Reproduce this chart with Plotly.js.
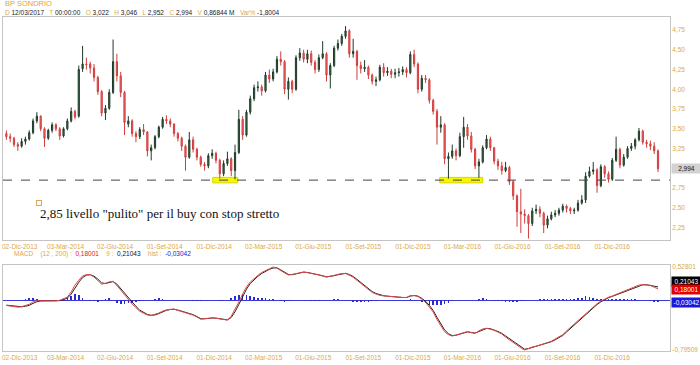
<!DOCTYPE html>
<html><head><meta charset="utf-8">
<script src="https://cdn.plot.ly/plotly-3.0.1.min.js"></script>
<style>html,body{margin:0;padding:0;background:#fff}#chart{width:700px;height:365px}</style>
</head><body><div id="chart"></div>
<script>
// Weekly sampling (week-ending Fridays) of BP SONDRIO
const dates = ("2013-11-29 2013-12-06 2013-12-13 2013-12-20 2013-12-27 " +
"2014-01-03 2014-01-10 2014-01-17 2014-01-24 2014-01-31 2014-02-07 2014-02-14 2014-02-21 2014-02-28 " +
"2014-03-07 2014-03-14 2014-03-21 2014-03-28 2014-04-04 2014-04-11 2014-04-18 2014-04-25 " +
"2014-05-02 2014-05-09 2014-05-16 2014-05-23 2014-05-30 2014-06-06 2014-06-13 2014-06-20 2014-06-27 " +
"2014-07-04 2014-07-11 2014-07-18 2014-07-25 2014-08-01 2014-08-08 2014-08-15 2014-08-22 2014-08-29 " +
"2014-09-05 2014-09-12 2014-09-19 2014-09-26 2014-10-03 2014-10-10 2014-10-17 2014-10-24 2014-10-31 " +
"2014-11-07 2014-11-14 2014-11-21 2014-11-28 2014-12-05 2014-12-12 2014-12-19 2014-12-26 " +
"2015-01-02 2015-01-09 2015-01-16 2015-01-23 2015-01-30 2015-02-06 2015-02-13 2015-02-20 2015-02-27 " +
"2015-03-06 2015-03-13 2015-03-20 2015-03-27 2015-04-03 2015-04-10 2015-04-17 2015-04-24 " +
"2015-05-01 2015-05-08 2015-05-15 2015-05-22 2015-05-29 2015-06-05 2015-06-12 2015-06-19 2015-06-26 " +
"2015-07-03 2015-07-10 2015-07-17 2015-07-24 2015-07-31 2015-08-07 2015-08-14 2015-08-21 2015-08-28 " +
"2015-09-04 2015-09-11 2015-09-18 2015-09-25 2015-10-02 2015-10-09 2015-10-16 2015-10-23 2015-10-30 " +
"2015-11-06 2015-11-13 2015-11-20 2015-11-27 2015-12-04 2015-12-11 2015-12-18 2015-12-25 " +
"2016-01-01 2016-01-08 2016-01-15 2016-01-22 2016-01-29 2016-02-05 2016-02-12 2016-02-19 2016-02-26 " +
"2016-03-04 2016-03-11 2016-03-18 2016-03-25 2016-04-01 2016-04-08 2016-04-15 2016-04-22 2016-04-29 " +
"2016-05-06 2016-05-13 2016-05-20 2016-05-27 2016-06-03 2016-06-10 2016-06-17 2016-06-24 " +
"2016-07-01 2016-07-08 2016-07-15 2016-07-22 2016-07-29 2016-08-05 2016-08-12 2016-08-19 2016-08-26 " +
"2016-09-02 2016-09-09 2016-09-16 2016-09-23 2016-09-30 2016-10-07 2016-10-14 2016-10-21 2016-10-28 " +
"2016-11-04 2016-11-11 2016-11-18 2016-11-25 2016-12-02 2016-12-09 2016-12-16 2016-12-23 2016-12-30 " +
"2017-01-06 2017-01-13 2017-01-20 2017-01-27 2017-02-03 2017-02-10 2017-02-17 2017-02-24 2017-03-03 2017-03-10").split(" ");

const open = [3.44,3.40,3.38,3.30,3.28,3.34,3.37,3.45,3.60,3.66,
3.50,3.38,3.48,3.55,3.50,3.41,3.50,3.60,3.72,3.66,
4.26,4.32,4.32,4.27,4.15,3.97,3.70,3.76,3.96,4.35,
4.17,3.96,3.56,3.60,3.44,3.40,3.49,3.46,3.22,3.26,
3.40,3.52,3.62,3.60,3.56,3.44,3.38,3.28,3.14,3.36,
3.24,3.14,3.05,3.03,3.16,3.19,3.10,2.93,3.06,3.12,
2.97,3.20,3.62,3.42,3.71,3.88,4.02,4.03,3.98,4.18,
4.13,4.22,4.38,4.35,4.00,4.10,4.00,4.40,4.46,4.38,
4.45,4.34,4.25,4.40,4.45,4.18,4.30,4.52,4.58,4.67,
4.74,4.45,4.48,4.30,4.26,4.28,4.18,4.10,4.12,4.28,
4.21,4.23,4.19,4.21,4.22,4.25,4.21,4.44,4.32,4.00,
4.14,4.12,3.86,3.72,3.52,3.55,3.12,3.15,3.22,3.16,
3.40,3.52,3.41,3.24,3.03,3.08,3.26,3.37,3.26,3.09,
3.03,2.97,3.01,2.83,2.65,2.45,2.42,2.40,2.30,2.46,
2.48,2.43,2.28,2.36,2.41,2.43,2.47,2.52,2.49,2.46,
2.47,2.56,2.60,2.90,2.96,2.98,2.78,3.02,2.93,2.86,
3.10,3.24,3.04,3.14,3.25,3.28,3.36,3.47,3.33,3.31,
3.28,3.22];
const high = [3.48,3.44,3.40,3.33,3.38,3.40,3.48,3.63,3.71,3.67,
3.52,3.50,3.58,3.57,3.52,3.52,3.63,3.77,3.74,4.30,
4.55,4.40,4.35,4.32,4.17,3.99,3.80,4.00,4.63,4.45,
4.22,3.98,3.66,3.62,3.47,3.52,3.56,3.47,3.30,3.42,
3.54,3.65,3.67,3.63,3.57,3.46,3.40,3.30,3.46,3.40,
3.26,3.16,3.08,3.19,3.24,3.21,3.12,3.10,3.21,3.14,
3.30,3.74,3.66,3.74,3.92,4.06,4.10,4.06,4.22,4.25,
4.26,4.42,4.48,4.37,4.15,4.12,4.43,4.52,4.50,4.50,
4.49,4.37,4.44,4.61,4.47,4.33,4.55,4.63,4.70,4.80,
4.76,4.64,4.50,4.35,4.37,4.30,4.20,4.16,4.31,4.33,
4.28,4.26,4.26,4.27,4.29,4.28,4.48,4.50,4.34,4.18,
4.18,4.14,3.88,3.75,3.66,3.57,3.20,3.30,3.25,3.45,
3.65,3.56,3.46,3.26,3.12,3.29,3.42,3.40,3.27,3.12,
3.08,3.08,3.03,2.85,2.67,2.74,2.48,2.42,2.50,2.54,
2.52,2.45,2.40,2.45,2.47,2.50,2.55,2.54,2.51,2.50,
2.60,2.66,2.95,3.02,3.08,3.00,3.05,3.04,2.96,3.13,
3.40,3.26,3.18,3.28,3.32,3.38,3.51,3.49,3.36,3.35,
3.33,3.24];
const low = [3.36,3.33,3.27,3.22,3.26,3.30,3.35,3.43,3.57,3.47,
3.27,3.36,3.45,3.47,3.36,3.39,3.48,3.58,3.62,3.64,
4.22,4.25,4.20,4.10,3.93,3.66,3.61,3.74,3.94,4.10,
3.90,3.42,3.52,3.40,3.33,3.37,3.42,3.15,3.10,3.24,
3.38,3.50,3.56,3.52,3.40,3.34,3.22,2.97,3.12,3.20,
3.10,3.02,2.97,3.00,3.12,3.06,2.87,2.90,3.03,2.90,
2.86,3.18,3.36,3.40,3.68,3.85,3.97,3.92,3.96,4.08,
4.10,4.20,4.30,3.94,3.87,3.95,3.98,4.36,4.34,4.33,
4.30,4.20,4.22,4.38,4.10,4.01,4.28,4.49,4.55,4.64,
4.40,4.40,4.12,4.20,4.22,4.13,4.06,4.04,4.10,4.16,
4.17,4.14,4.14,4.16,4.18,4.15,4.19,4.28,3.95,3.97,
4.08,3.82,3.68,3.30,3.45,3.05,2.87,3.12,3.10,3.14,
3.26,3.36,3.20,2.99,2.88,3.06,3.24,3.22,3.05,2.98,
2.92,2.95,2.79,2.60,2.26,2.18,2.30,2.11,2.27,2.42,
2.38,2.18,2.24,2.34,2.38,2.40,2.44,2.44,2.42,2.42,
2.45,2.54,2.56,2.88,2.92,2.69,2.76,2.88,2.82,2.84,
3.08,3.00,3.02,3.12,3.22,3.24,3.34,3.30,3.26,3.23,
3.18,2.952];
const close = [3.40,3.38,3.30,3.28,3.34,3.37,3.45,3.60,3.66,3.50,
3.38,3.48,3.55,3.50,3.41,3.50,3.60,3.72,3.65,4.25,
4.32,4.31,4.27,4.15,3.97,3.70,3.76,3.96,4.35,4.17,
3.96,3.58,3.60,3.44,3.40,3.49,3.46,3.22,3.26,3.40,
3.52,3.62,3.60,3.56,3.44,3.38,3.28,3.14,3.36,3.24,
3.14,3.05,3.03,3.16,3.19,3.10,2.93,3.06,3.12,2.97,
3.20,3.62,3.42,3.71,3.88,4.02,4.03,3.98,4.18,4.13,
4.22,4.38,4.35,4.00,4.10,4.00,4.40,4.46,4.38,4.45,
4.34,4.25,4.40,4.45,4.18,4.30,4.52,4.58,4.67,4.74,
4.45,4.48,4.30,4.26,4.28,4.18,4.10,4.12,4.28,4.21,
4.23,4.19,4.21,4.22,4.25,4.21,4.44,4.32,4.00,4.14,
4.12,3.86,3.72,3.52,3.55,3.12,3.15,3.22,3.16,3.40,
3.52,3.41,3.24,3.03,3.08,3.26,3.37,3.26,3.09,3.03,
2.97,3.01,2.83,2.65,2.45,2.42,2.40,2.30,2.46,2.48,
2.43,2.28,2.36,2.41,2.43,2.47,2.52,2.49,2.46,2.47,
2.56,2.60,2.90,2.96,2.98,2.78,3.02,2.93,2.86,3.10,
3.24,3.04,3.14,3.25,3.28,3.36,3.47,3.33,3.31,3.28,
3.22,2.994];

// MACD (12, 200), signal 9, histogram
const macd = [-0.085,-0.093,-0.102,-0.112,-0.105,-0.089,-0.066,-0.026,-0.008,-0.010,
-0.012,-0.016,-0.019,-0.012,-0.003,0.018,0.049,0.130,0.240,0.318,
0.386,0.407,0.405,0.368,0.317,0.255,0.268,0.291,0.300,0.237,
0.162,0.086,0.010,-0.063,-0.120,-0.178,-0.209,-0.237,-0.244,-0.231,
-0.206,-0.176,-0.155,-0.148,-0.143,-0.164,-0.180,-0.198,-0.216,-0.239,
-0.270,-0.304,-0.295,-0.285,-0.284,-0.289,-0.296,-0.308,-0.318,-0.256,
-0.150,-0.030,0.100,0.210,0.290,0.350,0.395,0.440,0.475,0.500,
0.528,0.510,0.470,0.433,0.400,0.410,0.425,0.443,0.448,0.438,
0.428,0.416,0.402,0.383,0.367,0.380,0.394,0.410,0.425,0.426,
0.400,0.366,0.316,0.265,0.215,0.164,0.122,0.098,0.075,0.068,
0.061,0.054,0.047,0.042,0.042,0.042,0.074,0.074,0.059,0.015,
-0.035,-0.110,-0.190,-0.310,-0.410,-0.505,-0.550,-0.573,-0.556,-0.540,
-0.520,-0.500,-0.520,-0.528,-0.490,-0.460,-0.448,-0.458,-0.480,-0.510,
-0.540,-0.590,-0.635,-0.680,-0.715,-0.760,-0.795,-0.765,-0.748,-0.735,
-0.720,-0.700,-0.678,-0.655,-0.623,-0.590,-0.550,-0.490,-0.435,-0.380,
-0.330,-0.267,-0.210,-0.152,-0.100,-0.057,-0.015,0.020,0.046,0.066,
0.090,0.114,0.140,0.166,0.194,0.217,0.240,0.247,0.245,0.235,
0.205,0.18001];
const signal = [-0.080,-0.086,-0.094,-0.103,-0.106,-0.098,-0.082,-0.052,-0.025,-0.014,
-0.012,-0.014,-0.017,-0.015,-0.008,0.006,0.032,0.095,0.195,0.285,
0.360,0.398,0.405,0.382,0.335,0.275,0.265,0.283,0.296,0.255,
0.185,0.110,0.035,-0.040,-0.100,-0.160,-0.198,-0.228,-0.242,-0.236,
-0.215,-0.186,-0.162,-0.150,-0.145,-0.158,-0.174,-0.192,-0.210,-0.232,
-0.262,-0.296,-0.298,-0.288,-0.285,-0.287,-0.294,-0.304,-0.315,-0.276,
-0.185,-0.070,0.060,0.175,0.265,0.330,0.380,0.425,0.462,0.490,
0.512,0.515,0.482,0.445,0.410,0.405,0.420,0.437,0.446,0.441,
0.431,0.420,0.407,0.389,0.372,0.376,0.389,0.405,0.420,0.426,
0.408,0.377,0.331,0.280,0.230,0.180,0.136,0.106,0.082,0.070,
0.063,0.056,0.049,0.044,0.042,0.042,0.064,0.073,0.064,0.028,
-0.018,-0.085,-0.165,-0.275,-0.380,-0.475,-0.535,-0.565,-0.560,-0.545,
-0.527,-0.507,-0.515,-0.525,-0.500,-0.470,-0.452,-0.455,-0.473,-0.500,
-0.530,-0.573,-0.620,-0.665,-0.703,-0.745,-0.782,-0.772,-0.755,-0.740,
-0.725,-0.706,-0.685,-0.663,-0.633,-0.600,-0.563,-0.508,-0.452,-0.398,
-0.345,-0.286,-0.228,-0.170,-0.116,-0.070,-0.027,0.010,0.038,0.060,
0.083,0.107,0.132,0.158,0.186,0.210,0.233,0.244,0.245,0.238,
0.222,0.21043];
const hist = [0.005,0.005,0.004,0.005,0.010,0.020,0.035,0.030,0.015,0.010,
0.005,-0.005,0.005,0.010,0.005,0.015,0.030,0.070,0.100,0.080,
0.040,0.010,-0.010,-0.020,-0.030,-0.020,0.020,0.035,0.010,-0.040,
-0.060,-0.060,-0.050,-0.040,-0.030,-0.020,-0.010,-0.005,0.005,0.020,
0.030,0.020,0.010,0.005,0.005,-0.005,-0.010,-0.010,-0.005,-0.010,
-0.015,-0.010,0.005,0.005,0.000,-0.005,-0.010,-0.010,-0.005,0.030,
0.060,0.080,0.090,0.085,0.070,0.050,0.040,0.035,0.030,0.025,
0.020,0.010,-0.020,-0.025,-0.015,0.005,0.010,0.010,0.005,-0.005,
-0.010,-0.010,-0.015,-0.010,0.005,0.010,0.015,0.015,0.010,-0.010,
-0.020,-0.030,-0.035,-0.035,-0.030,-0.025,-0.020,-0.010,-0.005,0.000,
0.005,0.005,0.000,0.000,0.005,0.010,0.020,0.010,0.000,-0.030,
-0.050,-0.070,-0.080,-0.080,-0.070,-0.060,-0.040,-0.020,-0.005,0.005,
0.010,0.000,-0.005,0.005,0.025,0.030,0.020,0.000,-0.010,-0.015,
-0.020,-0.025,-0.030,-0.030,-0.025,-0.020,-0.010,0.005,0.010,0.010,
0.015,0.015,0.020,0.020,0.020,0.020,0.020,0.025,0.025,0.025,
0.030,0.040,0.060,0.050,0.035,0.025,0.020,0.020,0.020,0.015,
0.015,0.020,0.020,0.020,0.020,0.015,0.010,0.005,-0.005,-0.015,
-0.025,-0.03042];

const dateTicks = ['2013-12-02','2014-03-03','2014-06-02','2014-09-01','2014-12-01','2015-03-02','2015-06-01','2015-09-01','2015-12-01','2016-03-01','2016-06-01','2016-09-01','2016-12-01'];
const dateLabels = ['02-Dic-2013','03-Mar-2014','02-Giu-2014','01-Set-2014','01-Dic-2014','02-Mar-2015','01-Giu-2015','01-Set-2015','01-Dic-2015','01-Mar-2016','01-Giu-2016','01-Set-2016','01-Dic-2016'];
const priceTicks = [2.25,2.50,2.75,3.25,3.50,3.75,4.00,4.25,4.50,4.75];
const macdTicks = [0.52801,-0.79509];
const supportLevel = 2.85;
const supportZones = [['2014-12-13','2015-01-28'],['2016-02-03','2016-04-22']];
const title = 'BP SONDRIO';
const info = {D:'12/03/2017', T:'00:00:00', O:'3,022', H:'3,046', L:'2,952', C:'2,994', V:'0,86844 M', 'Var%':'-1,8004'};
const note = '2,85 livello "pulito" per il buy con stop stretto';

const gold = '#dca84a';
const fmt = (v, d) => v.toFixed(d).replace('.', ',');
const n = close.length - 1;
const fs = 6.5;

const traces = [
  {type:'candlestick', x:dates, open:open, high:high, low:low, close:close, xaxis:'x', yaxis:'y',
   increasing:{line:{color:'#1f3a28', width:1}, fillcolor:'#47705a'},
   decreasing:{line:{color:'#d23c3c', width:1}, fillcolor:'#ee7272'},
   whiskerwidth:0, hoverinfo:'skip', showlegend:false},
  {type:'bar', x:dates, y:hist, xaxis:'x2', yaxis:'y2', marker:{color:'#2a2ad0', line:{width:0}},
   width:3*86400000, showlegend:false, hoverinfo:'skip'},
  {type:'scatter', mode:'lines', x:dates, y:signal, xaxis:'x2', yaxis:'y2',
   line:{color:'#2a2020', width:1}, showlegend:false, hoverinfo:'skip'},
  {type:'scatter', mode:'lines', x:dates, y:macd, xaxis:'x2', yaxis:'y2',
   line:{color:'#e04848', width:1}, showlegend:false, hoverinfo:'skip'}
];

const H = 365;
const py = y => 1 - y / H;
const xRange = ['2013-11-22 19:00', '2017-04-01'];
const tickFont = {family:'Liberation Sans, Arial, sans-serif', size:fs, color:gold};

const infoText = Object.keys(info).map(k => `<span style="color:${gold}">${k}</span> ${info[k]}`).join('   ');

// the first date label is kept inside the picture (clamped to the left edge), as in the source chart
const shownLabels = dateLabels.map((t, i) => i === 0 ? '' : t);

const xCommon = {type:'date', range:xRange, tickmode:'array', tickvals:dateTicks, ticktext:shownLabels,
  tickfont:tickFont, ticks:'', ticklabelshift:8, showgrid:false, zeroline:false,
  showline:true, mirror:true, linecolor:'#c4c4c4', linewidth:1};

const edgeLabel = yPix => ({xref:'paper', yref:'paper', x:-3/667, y:py(yPix), xanchor:'left', yanchor:'middle',
  showarrow:false, text:dateLabels[0], font:tickFont});

const layout = {
  width:700, height:365,
  margin:{l:3, r:30, t:0, b:0},
  paper_bgcolor:'#ffffff', plot_bgcolor:'#ffffff',
  showlegend:false, bargap:0, boxgap:0.55,
  font:{family:'Liberation Sans, Arial, sans-serif', size:fs, color:'#222'},
  xaxis:Object.assign({domain:[0,1], anchor:'y', rangeslider:{visible:false}}, xCommon),
  yaxis:{domain:[py(240), py(17)], anchor:'x', range:[2.092, 4.915], side:'right',
    tickmode:'array', tickvals:priceTicks, ticktext:priceTicks.map(v => fmt(v,2)), tickfont:tickFont, ticks:'',
    showgrid:false, zeroline:false, showline:true, mirror:true, linecolor:'#c4c4c4', linewidth:1},
  xaxis2:Object.assign({domain:[0,1], anchor:'y2', matches:'x'}, xCommon),
  yaxis2:{domain:[py(351), py(265)], anchor:'x2', range:[-0.811, 0.560], side:'right',
    tickmode:'array', tickvals:macdTicks, ticktext:macdTicks.map(v => fmt(v,5)), tickfont:tickFont, ticks:'',
    showgrid:false, zeroline:true, zerolinecolor:'#3a3ad8', zerolinewidth:1,
    showline:true, mirror:true, linecolor:'#c4c4c4', linewidth:1},
  shapes:[
    ...supportZones.map(z => ({type:'rect', xref:'x', yref:'y', x0:z[0], x1:z[1], y0:supportLevel-0.035, y1:supportLevel+0.035,
      fillcolor:'#f6f600', line:{color:'#d8d800', width:1}, layer:'below'})),
    {type:'line', xref:'paper', yref:'y', x0:0, x1:1, y0:supportLevel, y1:supportLevel,
      line:{color:'#444', width:1, dash:'dash'}}
  ],
  annotations:[
    {xref:'paper', yref:'paper', x:0, y:py(4), xanchor:'left', yanchor:'middle', showarrow:false,
     text:title, font:{size:7.5, color:'#e6a23e'}},
    {xref:'paper', yref:'paper', x:0, y:py(12.5), xanchor:'left', yanchor:'middle', showarrow:false,
     text:infoText, font:{size:fs, color:'#222'}},
    {xref:'paper', yref:'paper', x:(38-3)/667, y:py(213), xanchor:'left', yanchor:'middle', showarrow:false,
     text:note, font:{family:'Liberation Serif, Times New Roman, serif', size:13, color:'#111'}},
    {xref:'paper', yref:'paper', x:(36-3)/667, y:py(203), xanchor:'left', yanchor:'middle', showarrow:false,
     text:' ', width:4, height:4, bordercolor:gold, borderwidth:1, borderpad:0, font:{size:2}},
    {xref:'paper', yref:'y', x:1, y:close[n], xanchor:'left', yanchor:'middle', xshift:1, showarrow:false,
     text:fmt(close[n],3), bgcolor:'#d2d2d2', width:27, font:{size:fs, color:'#111'}},
    {xref:'paper', yref:'paper', x:(12-3)/667, y:py(254), xanchor:'left', yanchor:'middle', showarrow:false,
     text:`<span style="color:${gold}">MACD</span>    <span style="color:${gold}">(12 , 200) :</span>  <span style="color:#e02020">${fmt(macd[n],5)}</span>    <span style="color:${gold}">9 :</span>  <span style="color:#111">${fmt(signal[n],5)}</span>    <span style="color:${gold}">hist :</span>  <span style="color:#2020d0">${fmt(hist[n],5)}</span>`,
     font:{size:fs}},
    {xref:'paper', yref:'y2', x:1, y:signal[n], xanchor:'left', yanchor:'middle', xshift:1, yshift:5, showarrow:false,
     text:fmt(signal[n],5), bgcolor:'#000000', width:27, font:{size:fs, color:'#fff'}},
    {xref:'paper', yref:'y2', x:1, y:macd[n], xanchor:'left', yanchor:'middle', xshift:1, yshift:-1, showarrow:false,
     text:fmt(macd[n],5), bgcolor:'#e00000', width:27, font:{size:fs, color:'#fff'}},
    {xref:'paper', yref:'y2', x:1, y:hist[n], xanchor:'left', yanchor:'middle', xshift:1, showarrow:false,
     text:fmt(hist[n],5), bgcolor:'#1818e0', width:27, font:{size:fs, color:'#fff'}},
    edgeLabel(246),
    edgeLabel(357)
  ]
};

Plotly.newPlot('chart', traces, layout, {staticPlot:true, displayModeBar:false});
</script>
</body></html>
